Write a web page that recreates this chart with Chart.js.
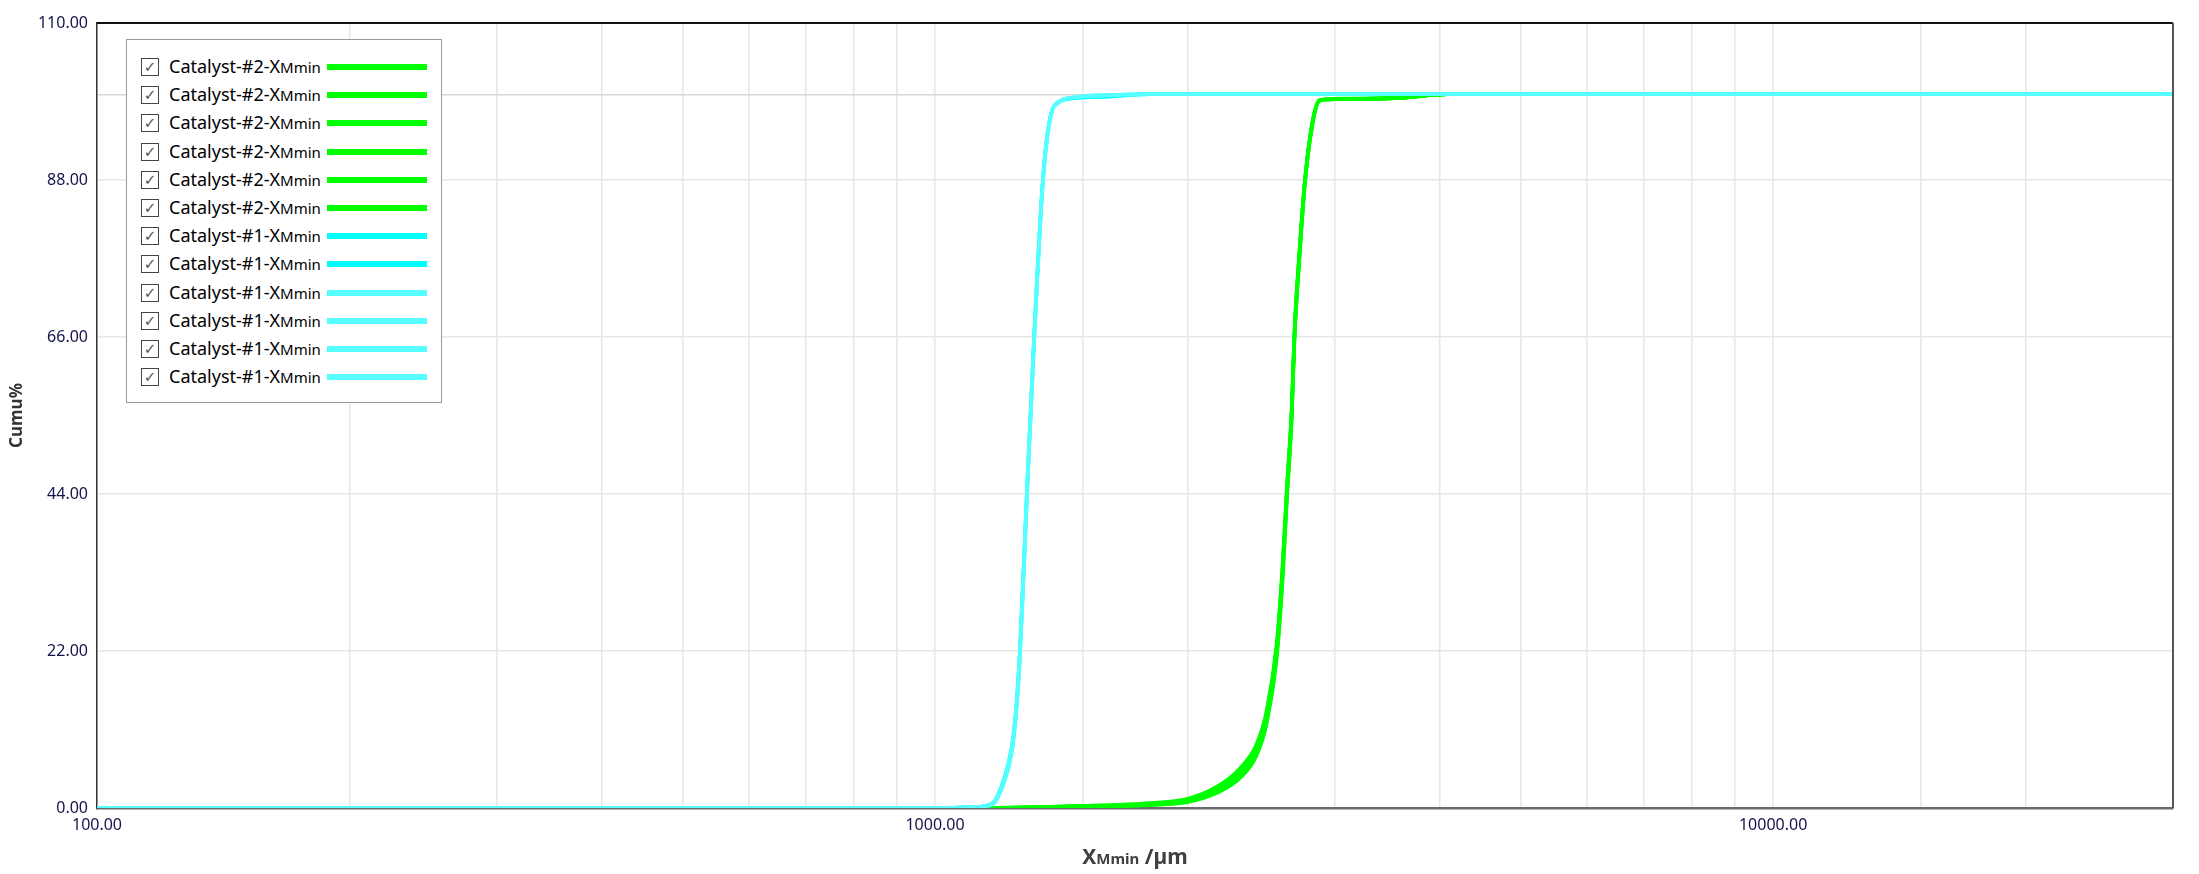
<!DOCTYPE html>
<html>
<head>
<meta charset="utf-8">
<script src="https://cdn.jsdelivr.net/npm/chart.js@4.4.1/dist/chart.umd.min.js"></script>
<style>
  body { margin: 0; background: #fff; }
  #wrap { position: relative; width: 2199px; height: 874px; }
  #legend {
    position: absolute; left: 126px; top: 39px; width: 316px; height: 364px;
    border: 1.5px solid #9a9a9a; background: #fff; box-sizing: border-box;
    font-family: "Noto Sans", sans-serif; color: #000;
  }
  .row { position: absolute; left: 0; height: 28px; width: 100%; }
  .box {
    position: absolute; left: 14px; top: 4px; width: 18px; height: 18px;
    border: 1px solid #444; box-sizing: border-box;
    font: 15px "DejaVu Sans", sans-serif; color: #555; text-align: center; line-height: 17px;
  }
  .txt { position: absolute; left: 42px; top: -1px; font-size: 18px; line-height: 27px; white-space: nowrap; }
  .txt small { font-size: 15px; }
  .swatch { position: absolute; left: 200px; top: 10px; width: 100px; height: 6px; }
</style>
</head>
<body>
<div id="wrap">
  <canvas id="grafico" width="2199" height="874"></canvas>
  <div id="legend"></div>
</div>
<script>
// sizes in µm (log x axis)
const sizes1 = [100, 1000, 1100, 1168, 1206, 1234, 1249, 1263, 1287, 1313, 1345, 1372, 1410, 1449, 1620, 1800, 30000];
const sizes2 = [100, 1000, 1120, 1500, 1806, 2000, 2169, 2312, 2420, 2488, 2557, 2597, 2629, 2665, 2684, 2719, 2764, 2828, 2880, 3000, 3589, 4083, 30000];

// Catalyst-#2 cumulative %
const cat2a = [0, 0, 0, 0.2, 0.5, 1.0, 2.5, 4.8, 8.1, 12.7, 22.0, 32.6, 44.0, 55.7, 66.0, 76.9, 88.0, 96.7, 99.2, 99.3, 99.5, 100, 100];
const cat2b = [0, 0, 0, 0.3, 0.7, 1.3, 3.0, 5.6, 9.0, 13.8, 23.2, 33.8, 45.0, 56.5, 66.8, 77.5, 88.4, 96.9, 99.2, 99.3, 99.5, 100, 100];
const cat2c = [0, 0, 0, 0.1, 0.4, 0.8, 2.1, 4.2, 7.4, 11.9, 21.0, 31.5, 43.0, 54.8, 65.2, 76.2, 87.6, 96.5, 99.1, 99.3, 99.5, 100, 100];
const cat2d = [0, 0, 0, 0.2, 0.6, 1.1, 2.7, 5.1, 8.5, 13.2, 22.5, 33.1, 44.4, 56.0, 66.3, 77.1, 88.1, 96.7, 99.2, 99.3, 99.5, 100, 100];
const cat2e = [0, 0, 0, 0.2, 0.5, 0.9, 2.3, 4.5, 7.8, 12.3, 21.5, 32.0, 43.5, 55.2, 65.6, 76.5, 87.8, 96.6, 99.2, 99.3, 99.5, 100, 100];
const cat2f = [0, 0, 0, 0.3, 0.6, 1.2, 2.8, 5.3, 8.7, 13.5, 22.8, 33.4, 44.7, 56.3, 66.5, 77.3, 88.2, 96.8, 99.2, 99.4, 99.6, 100, 100];

// Catalyst-#1 cumulative %
const cat1a = [0, 0, 0.1, 0.5, 3.5, 8.1, 13.4, 22.0, 44.0, 66.0, 88.0, 96.7, 99.0, 99.4, 99.7, 100, 100];
const cat1b = [0, 0, 0.1, 0.6, 3.8, 8.5, 14.0, 22.8, 44.8, 66.6, 88.4, 96.8, 99.0, 99.4, 99.7, 100, 100];
const cat1c = [0, 0, 0.1, 0.5, 3.3, 7.8, 13.0, 21.5, 43.4, 65.5, 87.7, 96.6, 99.0, 99.5, 99.9, 100, 100];
const cat1d = [0, 0, 0.1, 0.5, 3.6, 8.2, 13.6, 22.3, 44.3, 66.2, 88.1, 96.7, 99.1, 99.5, 99.9, 100, 100];
const cat1e = [0, 0, 0.1, 0.4, 3.2, 7.6, 12.8, 21.2, 43.0, 65.2, 87.5, 96.5, 99.0, 99.5, 99.9, 100, 100];
const cat1f = [0, 0, 0.1, 0.5, 3.4, 8.0, 13.2, 21.8, 43.7, 65.8, 87.9, 96.6, 99.0, 99.5, 99.9, 100, 100];

const yTicks = [0, 22, 44, 66, 88, 110];

const series = [
    { name: 'Catalyst-#2', sizes: sizes2, vals: cat2a, color: '#00ff00' },
    { name: 'Catalyst-#2', sizes: sizes2, vals: cat2b, color: '#00ff00' },
    { name: 'Catalyst-#2', sizes: sizes2, vals: cat2c, color: '#00ff00' },
    { name: 'Catalyst-#2', sizes: sizes2, vals: cat2d, color: '#00ff00' },
    { name: 'Catalyst-#2', sizes: sizes2, vals: cat2e, color: '#00ff00' },
    { name: 'Catalyst-#2', sizes: sizes2, vals: cat2f, color: '#00ff00' },
    { name: 'Catalyst-#1', sizes: sizes1, vals: cat1a, color: '#00ffff' },
    { name: 'Catalyst-#1', sizes: sizes1, vals: cat1b, color: '#00ffff' },
    { name: 'Catalyst-#1', sizes: sizes1, vals: cat1c, color: '#55ffff' },
    { name: 'Catalyst-#1', sizes: sizes1, vals: cat1d, color: '#55ffff' },
    { name: 'Catalyst-#1', sizes: sizes1, vals: cat1e, color: '#55ffff' },
    { name: 'Catalyst-#1', sizes: sizes1, vals: cat1f, color: '#55ffff' }
];

const datasets = series.map((s, i) => ({
    label: s.name + '-XMmin',
    data: s.sizes.map((x, k) => ({ x: x, y: s.vals[k] })),
    borderColor: s.color,
    backgroundColor: s.color,
    borderWidth: 3.5,
    pointRadius: 0,
    cubicInterpolationMode: 'monotone',
    // cyan on top of green
    order: i < 6 ? 20 - i : 12 - i
}));

const tickFont = { family: '"Noto Sans", sans-serif', size: 16 };

const frame = {
    id: 'frame',
    afterDraw(chart) {
        const { ctx, chartArea: a } = chart;
        ctx.save();
        ctx.lineWidth = 2;
        ctx.strokeStyle = '#111';
        ctx.beginPath(); ctx.moveTo(a.left, a.top); ctx.lineTo(a.right, a.top); ctx.stroke();
        ctx.strokeStyle = '#555';
        ctx.beginPath(); ctx.moveTo(a.right, a.top); ctx.lineTo(a.right, a.bottom); ctx.stroke();

        // y title
        ctx.fillStyle = '#333';
        ctx.font = 'bold 17px "Noto Sans", sans-serif';
        ctx.textAlign = 'center';
        ctx.textBaseline = 'middle';
        ctx.translate(17, (a.top + a.bottom) / 2);
        ctx.rotate(-Math.PI / 2);
        ctx.fillText('Cumu%', 0, 0);
        ctx.restore();

        // x title: X + small Mmin + /µm
        ctx.save();
        ctx.fillStyle = '#404040';
        ctx.textBaseline = 'alphabetic';
        const big = 'bold 21px "Noto Sans", sans-serif';
        const small = 'bold 15px "Noto Sans", sans-serif';
        ctx.font = big; const w1 = ctx.measureText('X').width; const w3 = ctx.measureText(' /µm').width;
        ctx.font = small; const w2 = ctx.measureText('Mmin').width;
        let x = (a.left + a.right) / 2 - (w1 + w2 + w3) / 2;
        const y = 864;
        ctx.font = big; ctx.fillText('X', x, y); x += w1;
        ctx.font = small; ctx.fillText('Mmin', x, y); x += w2;
        ctx.font = big; ctx.fillText(' /µm', x, y);
        ctx.restore();
    }
};

const ctx = document.getElementById('grafico').getContext('2d');
const grafico = new Chart(ctx, {
    type: 'line',
    data: { datasets },
    options: {
        responsive: false,
        animation: false,
        devicePixelRatio: 1,
        layout: { padding: { top: 23, right: 26, left: 0, bottom: 0 } },
        plugins: { legend: { display: false }, tooltip: { enabled: false } },
        scales: {
            x: {
                type: 'logarithmic',
                min: 100,
                max: 30000,
                grid: { color: '#e6e6e6', lineWidth: 1.5, drawTicks: false },
                border: { color: '#6b6b6b', width: 2.5 },
                ticks: {
                    font: tickFont, color: '#14144a', padding: 8, maxRotation: 0, autoSkip: false,
                    callback: v => Number.isInteger(Math.log10(v)) ? v.toFixed(2) : ''
                },
                afterFit: s => { s.height = 66; }
            },
            y: {
                min: 0,
                max: 110,
                afterBuildTicks: s => {
                    s.ticks = yTicks.concat([100]).sort((p, q) => p - q).map(v => ({ value: v }));
                },
                grid: {
                    color: c => c.tick && c.tick.value === 100 ? '#d8d8d8' : '#e6e6e6',
                    lineWidth: 1.5, drawTicks: false
                },
                border: { color: '#333', width: 1.5 },
                ticks: {
                    font: tickFont, color: '#14144a', padding: 9,
                    callback: v => v === 100 ? '' : v.toFixed(2)
                },
                afterFit: s => { s.width = 97; }
            }
        }
    },
    plugins: [frame]
});

// legend in the same order as the series list
const legend = document.getElementById('legend');
series.forEach((s, i) => {
    const row = document.createElement('div');
    row.className = 'row';
    row.style.top = (14 + i * 28.2) + 'px';
    row.innerHTML = `
        <div class="box">✓</div>
        <div class="txt">${s.name}-X<small>Mmin</small></div>
        <div class="swatch" style="background:${s.color}"></div>
    `;
    legend.appendChild(row);
});
</script>
</body>
</html>
